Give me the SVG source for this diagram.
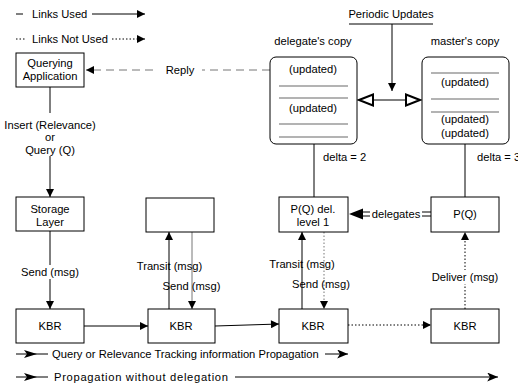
<svg xmlns="http://www.w3.org/2000/svg" width="518" height="385" viewBox="0 0 518 385">
<style>
text{font-family:"Liberation Sans",Arial,sans-serif;font-size:11.2px;fill:#000;text-anchor:middle}
.l{text-anchor:start}
.box{fill:#fff;stroke:#000;stroke-width:1}
.ln{fill:none;stroke:#000;stroke-width:1}
.gr{fill:none;stroke:#777;stroke-width:1}
.dot{stroke-dasharray:1.5 2}
.dash{stroke-dasharray:8 5}
.sep{stroke:#000;stroke-width:0.6}
</style>
<defs>
<marker id="a" viewBox="0 0 10 10" markerUnits="userSpaceOnUse" markerWidth="9" markerHeight="8" refX="10" refY="5" orient="auto"><path d="M0,0 L10,5 L0,10 z" fill="#000"/></marker>
<marker id="s" viewBox="0 0 12 10" markerUnits="userSpaceOnUse" markerWidth="12" markerHeight="9" refX="12" refY="5" orient="auto"><path d="M0,0 L12,5 L0,10 L3,5 z" fill="#000"/></marker>
</defs>

<g id="legend">
<line class="ln" x1="16" y1="14" x2="23" y2="14"/>
<text class="l" x="32" y="18">Links Used</text>
<line class="ln" x1="92" y1="14" x2="145" y2="14" marker-end="url(#a)"/>
<line class="ln dot" x1="16" y1="39" x2="25" y2="39"/>
<text class="l" x="32" y="43">Links Not Used</text>
<line class="ln dot" x1="112" y1="39" x2="145" y2="39" marker-end="url(#a)"/>
<line class="ln" x1="16" y1="354" x2="48" y2="354"/>
<path d="M24,350 L37,354 L24,358 L27,354 z" fill="#000"/>
<text class="l" x="52" y="358">Query or Relevance Tracking information Propagation</text>
<line class="ln" x1="325" y1="354" x2="348" y2="354" marker-end="url(#s)"/>
<line class="ln" x1="16" y1="377" x2="48" y2="377"/>
<path d="M24,373 L37,377 L24,381 L27,377 z" fill="#000"/>
<text class="l" x="54" y="381" textLength="174" lengthAdjust="spacing">Propagation without delegation</text>
<line class="ln" x1="235" y1="377" x2="498" y2="377" marker-end="url(#s)"/>
</g>

<g id="connectors">
<line class="gr dash" x1="270" y1="70" x2="86" y2="70" marker-end="url(#a)"/>
<rect x="158" y="63" width="44" height="14" fill="#fff"/>
<text x="180" y="74">Reply</text>
<line class="ln" x1="50" y1="86" x2="50" y2="113"/>
<text x="50" y="129">Insert (Relevance)</text>
<text x="50" y="141">or</text>
<text x="50" y="154">Query (Q)</text>
<line class="ln" x1="50" y1="156" x2="50" y2="197" marker-end="url(#a)"/>
<line class="ln" x1="50" y1="231" x2="50" y2="309" marker-end="url(#a)"/>
<rect x="20" y="265" width="60" height="14" fill="#fff"/>
<text x="50" y="276">Send (msg)</text>
<line class="ln" x1="84" y1="326" x2="148" y2="326" marker-end="url(#a)"/>
<line class="ln" x1="215" y1="326" x2="279" y2="324" marker-end="url(#a)"/>
<line class="ln dot" x1="348" y1="325" x2="431" y2="325" marker-end="url(#a)"/>
<line class="ln" x1="169" y1="309" x2="169" y2="232" marker-end="url(#a)"/>
<line class="gr" x1="192" y1="232" x2="192" y2="309" marker-end="url(#a)"/>
<text x="169.5" y="270">Transit (msg)</text>
<text x="191.5" y="290">Send (msg)</text>
<line class="ln" x1="302" y1="309" x2="302" y2="232" marker-end="url(#a)"/>
<line class="gr dot" x1="324" y1="232" x2="324" y2="309" marker-end="url(#a)"/>
<text x="302" y="268">Transit (msg)</text>
<text x="321" y="288">Send (msg)</text>
<line class="ln dot" x1="465" y1="309" x2="465" y2="232" marker-end="url(#a)"/>
<rect x="431" y="270" width="68" height="14" fill="#fff"/>
<text x="465" y="281">Deliver (msg)</text>
<line class="ln" x1="362" y1="212" x2="431" y2="212"/>
<line class="ln" x1="362" y1="216" x2="431" y2="216"/>
<path d="M349,214 L363,208.5 L363,219.5 z" fill="#000"/>
<rect x="370" y="206" width="52" height="15" fill="#fff"/>
<text x="396" y="218">delegates</text>
<line class="ln" x1="314" y1="144" x2="314" y2="197"/>
<text class="l" x="323" y="161">delta = 2</text>
<line class="ln" x1="465" y1="144" x2="465" y2="197"/>
<text class="l" x="477" y="161">delta = 3</text>
<line class="ln" x1="372" y1="100" x2="407" y2="100" stroke-width="3"/>
<path d="M359,100 L373,94.5 L373,105.5 z" fill="#fff" stroke="#000" stroke-width="2"/>
<path d="M420,100 L406,94.5 L406,105.5 z" fill="#fff" stroke="#000" stroke-width="2"/>
<text x="391" y="18">Periodic Updates</text>
<line class="ln" x1="349" y1="24" x2="433" y2="24"/>
<line class="ln" x1="392" y1="24" x2="392" y2="91" marker-end="url(#a)"/>
</g>

<g id="querying-application">
<rect class="box" x="16" y="53" width="68" height="34"/>
<text x="50" y="67">Querying</text>
<text x="50" y="80">Application</text>
</g>
<g id="storage-layer">
<rect class="box" x="16" y="197" width="68" height="34"/>
<text x="50" y="213">Storage</text>
<text x="50" y="226">Layer</text>
</g>
<g id="empty-box">
<rect class="box" x="146" y="198" width="68" height="34"/>
</g>
<g id="pq-del">
<rect class="box" x="279" y="197" width="69" height="35"/>
<text x="313" y="213">P(Q) del.</text>
<text x="313" y="226">level 1</text>
</g>
<g id="pq">
<rect class="box" x="431" y="197" width="68" height="35"/>
<text x="465" y="218">P(Q)</text>
</g>
<g id="kbr1"><rect class="box" x="16" y="309" width="68" height="34"/><text x="50" y="330">KBR</text></g>
<g id="kbr2"><rect class="box" x="148" y="309" width="67" height="34"/><text x="181" y="330">KBR</text></g>
<g id="kbr3"><rect class="box" x="279" y="309" width="69" height="34"/><text x="313" y="330">KBR</text></g>
<g id="kbr4"><rect class="box" x="431" y="309" width="68" height="34"/><text x="465" y="330">KBR</text></g>

<g id="delegate-copy">
<text x="313" y="45">delegate's copy</text>
<rect class="box" x="270" y="57" width="87" height="87" rx="6"/>
<text x="313" y="73">(updated)</text>
<line class="sep" x1="279" y1="86" x2="348" y2="86"/>
<line class="sep" x1="279" y1="98" x2="348" y2="98"/>
<text x="313" y="112">(updated)</text>
<line class="sep" x1="279" y1="124" x2="348" y2="124"/>
<line class="sep" x1="279" y1="137" x2="348" y2="137"/>
</g>
<g id="master-copy">
<text x="465" y="45">master's copy</text>
<rect class="box" x="422" y="57" width="87" height="87" rx="6"/>
<line class="sep" x1="431" y1="73" x2="499" y2="73"/>
<text x="465" y="86">(updated)</text>
<line class="sep" x1="431" y1="99" x2="499" y2="99"/>
<line class="sep" x1="431" y1="112" x2="499" y2="112"/>
<text x="465" y="123">(updated)</text>
<text x="465" y="137">(updated)</text>
</g>
</svg>
